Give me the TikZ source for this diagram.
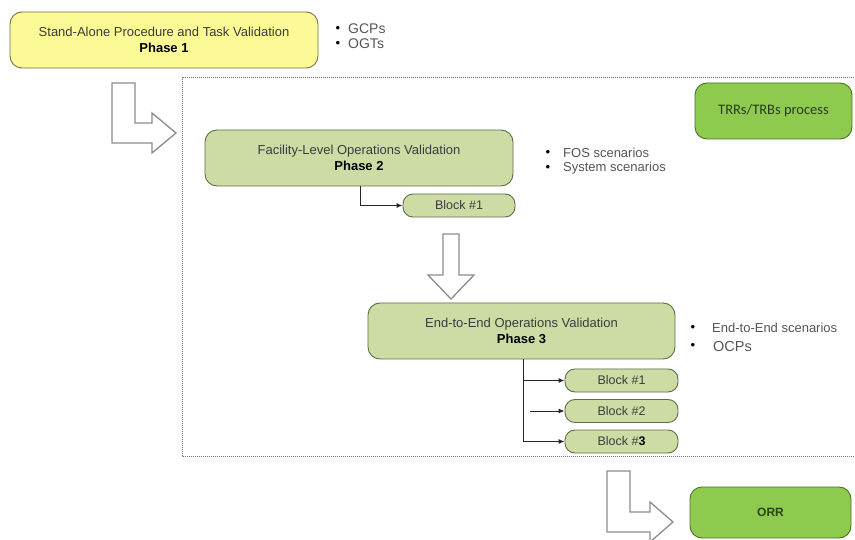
\documentclass[tikz,border=0pt]{standalone}
\usepackage{fontspec}
\setmainfont{Liberation Sans}
\newfontfamily\calib{Carlito}
\usetikzlibrary{arrows.meta}
\definecolor{pyellow}{RGB}{252,250,150}
\definecolor{pyborder}{RGB}{115,112,70}
\definecolor{pgreen}{RGB}{205,220,165}
\definecolor{pgborder}{RGB}{95,110,70}
\definecolor{bgreen}{RGB}{142,202,78}
\definecolor{bgborder}{RGB}{75,115,40}
\definecolor{txtgray}{RGB}{60,60,60}
\definecolor{bultxt}{RGB}{85,85,85}
\definecolor{arrgray}{RGB}{140,140,140}
\tikzset{
  phasebox/.style={draw=pgborder, fill=pgreen, line width=0.9pt, rounded corners=12pt,
    minimum width=308pt, minimum height=56pt, align=center, inner sep=0pt,
    font=\fontsize{13}{16}\selectfont, text=txtgray},
  blockbox/.style={draw=pgborder, fill=pgreen, line width=0.9pt, rounded corners=10pt,
    minimum width=112pt, minimum height=23pt, inner sep=0pt,
    font=\fontsize{12.5}{14}\selectfont, text=txtgray},
  brightbox/.style={draw=bgborder, fill=bgreen, line width=0.9pt, rounded corners=12pt,
    inner sep=0pt},
  bullettxt/.style={anchor=west, inner sep=0pt, font=\fontsize{13}{15}\selectfont, text=bultxt},
  bulletdot/.style={inner sep=0pt, font=\fontsize{13}{15}\selectfont, text=black},
  blockarrow/.style={draw=arrgray, fill=white, line width=1.3pt, line join=miter},
  conn/.style={draw=black!85, line width=1pt, -{Latex[length=6pt,width=5pt]}},
  frame/.style={draw=black!55, line width=0.9pt, dash pattern=on 1pt off 1pt}
}
\begin{document}
\begin{tikzpicture}[x=1pt,y=-1pt]
\useasboundingbox[fill=white] (0,0) rectangle (855,540);

% dotted frame (open on the right)
\draw[frame] (856,77) -- (182,77) -- (182,456) -- (856,456);

% Phase 1
\node[phasebox, fill=pyellow, draw=pyborder] (p1) at (164,40)
  {Stand-Alone Procedure and Task Validation\\\textbf{\color{black}Phase 1}};
\node[bulletdot] (g1) at (338,29) {•};
\node[bullettxt, font=\fontsize{14}{16}\selectfont] (g1t) at (348,29) {GCPs};
\node[bulletdot] (g2) at (338,44) {•};
\node[bullettxt, font=\fontsize{14}{16}\selectfont] (g2t) at (348,44) {OGTs};

% L arrow 1
\draw[blockarrow] (112,83) -- (135,83) -- (135,123) -- (152,123) -- (152,113) -- (176,133)
  -- (152,153) -- (152,143) -- (112,143) -- cycle;

% TRRs
\node[brightbox, minimum width=157pt, minimum height=56pt, font=\calib\fontsize{14.5}{16}\selectfont,
  text={rgb,255:red,40;green,60;blue,30}] (trr) at (773.5,111) {TRRs/TRBs process};

% Phase 2
\node[phasebox] (p2) at (359,158)
  {Facility-Level Operations Validation\\\textbf{\color{black}Phase 2}};
\node[bulletdot] (f1) at (548,153) {•};
\node[bullettxt] (f1t) at (563,153) {FOS scenarios};
\node[bulletdot] (f2) at (548,168) {•};
\node[bullettxt] (f2t) at (563,168) {System scenarios};

\node[blockbox] (b21) at (459,205.5) {Block \#1};
\coordinate (c2) at (360,0);
\draw[conn] (p2.south -| c2) |- (b21.west);

% down arrow
\draw[blockarrow] (443,234) -- (459,234) -- (459,275) -- (474,275) -- (451,299)
  -- (428,275) -- (443,275) -- cycle;

% Phase 3
\node[phasebox, minimum width=307pt] (p3) at (521.5,331)
  {End-to-End Operations Validation\\\textbf{\color{black}Phase 3}};
\node[bulletdot] (e1) at (693,328) {•};
\node[bullettxt] (e1t) at (712,328) {End-to-End scenarios};
\node[bulletdot] (e2) at (693,346) {•};
\node[bullettxt, font=\fontsize{14.5}{16}\selectfont] (e2t) at (713,347) {OCPs};

\node[blockbox, minimum width=113pt] (b31) at (621.5,380.5) {Block \#1};
\node[blockbox, minimum width=113pt] (b32) at (621.5,411) {Block \#2};
\node[blockbox, minimum width=113pt] (b33) at (621.5,441.5) {Block \#\textbf{\color{black}3}};
\coordinate (c3) at (523,0);
\coordinate (c32) at (530,411);
\draw[conn] (p3.south -| c3) |- (b33.west);
\draw[conn] (p3.south -| c3) |- (b31.west);
\draw[conn] (c32) -- (b32.west);

% L arrow 2
\draw[blockarrow] (607,471) -- (630,471) -- (630,512) -- (650,512) -- (650,502) -- (673,522)
  -- (650,542) -- (650,532) -- (607,532) -- cycle;

% ORR
\node[brightbox, minimum width=161pt, minimum height=51pt, font=\bfseries\fontsize{12}{14}\selectfont,
  text={rgb,255:red,40;green,70;blue,20}] (orr) at (770.5,512.5) {ORR};
\end{tikzpicture}
\end{document}
